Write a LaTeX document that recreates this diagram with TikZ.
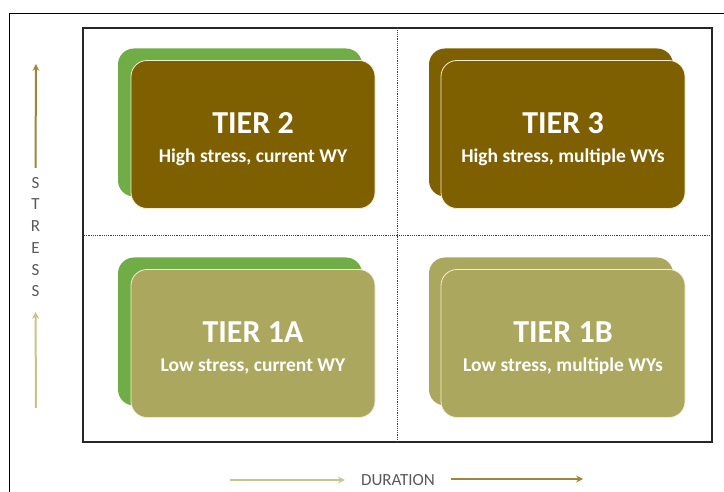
\documentclass[tikz,border=0pt]{standalone}
\usepackage{fontspec}
\setmainfont{Carlito}
\usepackage{xcolor}
\usepackage{tikz}
\usetikzlibrary{arrows, positioning}
\definecolor{tiergold}{HTML}{7F6000}
\definecolor{tierolive}{HTML}{ACA75E}
\definecolor{tiergreen}{HTML}{70AD47}
\definecolor{tiercream}{HTML}{F3EDD6}
\definecolor{axishigh}{HTML}{9E8638}
\definecolor{axislow}{HTML}{C6C488}
\definecolor{axistext}{HTML}{595959}
\tikzset{
    tierbox/.style={rectangle, rounded corners=16pt, minimum width=244pt, minimum height=148pt, text centered, align=center, draw=tiercream, line width=0.8pt, text=white, font=\fontsize{19.5}{29}\selectfont\bfseries},
    backbox/.style={rectangle, rounded corners=16pt, minimum width=244pt, minimum height=148pt, inner sep=0pt, outer sep=0pt},
    axislabel/.style={text=axistext, font=\fontsize{17}{21.7}\selectfont},
    arrow/.style={line width=2pt,->,>=stealth},
    quadline/.style={densely dotted, line width=1.2pt, draw=black!75}
}
\newcommand{\tiertext}[2]{\rule{0pt}{30pt}{\fontsize{32}{29}\selectfont #1}\\#2}

\begin{document}
\begin{tikzpicture}[x=1pt, y=-1pt]
    \useasboundingbox (0,0) rectangle (724,492);
    \draw[line width=1.3pt] (9.3,492) -- (9.3,13.3) -- (724,13.3);

    % quadrant frame
    \node[draw=black!85, line width=1.8pt, minimum width=629pt, minimum height=414pt, inner sep=0pt] (grid) at (397.2,235.3) {};
    \draw[quadline] (grid.north) -- (grid.south);
    \draw[quadline] (grid.west) -- (grid.east);

    % back cards
    \node (tier2back) [backbox, fill=tiergreen] at (240,122.5) {};
    \node (tier3back) [backbox, fill=tiergold, right=67pt of tier2back] {};
    \node (tier1aback) [backbox, fill=tiergreen, below=61pt of tier2back] {};
    \node (tier1bback) [backbox, fill=tierolive, below=61pt of tier3back] {};

    % front cards
    \node (tier2) [tierbox, fill=tiergold] at ([shift={(13,12)}]tier2back.center) {\tiertext{TIER 2}{High stress, current WY}};
    \node (tier3) [tierbox, fill=tiergold] at ([shift={(12,12)}]tier3back.center) {\tiertext{TIER 3}{High stress, multiple WYs}};
    \node (tier1a) [tierbox, fill=tierolive] at ([shift={(13,12)}]tier1aback.center) {\tiertext{TIER 1A}{Low stress, current WY}};
    \node (tier1b) [tierbox, fill=tierolive] at ([shift={(12,12)}]tier1bback.center) {\tiertext{TIER 1B}{Low stress, multiple WYs}};

    % axes
    \node (stress) [axislabel, align=center, inner sep=9pt] at (35.5,237) {S\\T\\R\\E\\S\\S};
    \coordinate (stressbase) at (36,408);
    \coordinate (stresstip) at (36,64);
    \draw [arrow, axislow, shorten >=6pt] (stressbase) -- (stress.south);
    \draw [arrow, axishigh] (stress.north) -- (stresstip);

    \node (duration) [axislabel, inner xsep=16pt] at (398,480) {DURATION};
    \coordinate (durationbase) at (230,480);
    \coordinate (durationtip) at (583,479);
    \draw [arrow, axislow] (durationbase) -- (duration.west);
    \draw [arrow, axishigh] (duration.east |- durationtip) -- (durationtip);
\end{tikzpicture}
\end{document}
